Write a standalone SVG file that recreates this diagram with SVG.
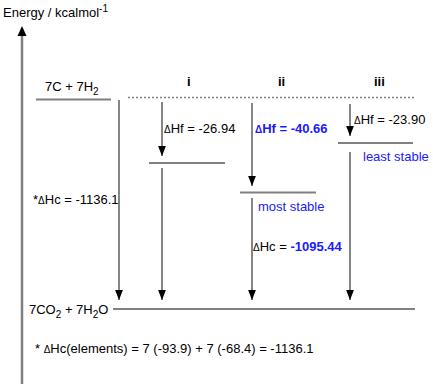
<svg xmlns="http://www.w3.org/2000/svg" width="433" height="386" viewBox="0 0 433 386">
<style>
text{font-family:"Liberation Sans",Arial,sans-serif;font-size:13px;fill:#000}
.d{font-size:10px}
.b{fill:#1a1aff}
.bb{fill:#1a1aff;font-weight:bold}
.h{font-weight:bold}
.lvl{stroke:#808080;stroke-width:2;fill:none}
.arr{stroke:#444;stroke-width:1.3;fill:none;marker-end:url(#ah)}
.sub{font-size:10px}
</style>
<defs>
<marker id="ah" markerUnits="userSpaceOnUse" markerWidth="10" markerHeight="8" refX="9" refY="3.5" orient="auto" viewBox="0 0 9 7">
<path d="M0,0 L9,3.5 L0,7 Z" fill="#000"/>
</marker>
</defs>
<g id="axis">
<line x1="22" y1="384" x2="22" y2="34" stroke="#808080" stroke-width="2.5"/>
<path d="M22,26 L26.5,36 L17.5,36 Z" fill="#000"/>
<text x="3" y="17">Energy / kcalmol<tspan class="sub" dy="-5">-1</tspan></text>
</g>
<g id="connectors">
<line class="arr" x1="119" y1="100" x2="119" y2="300"/>
<line class="arr" x1="162" y1="102" x2="162" y2="156"/>
<line class="arr" x1="162" y1="168" x2="162" y2="300"/>
<line class="arr" x1="252" y1="103" x2="252" y2="186"/>
<line class="arr" x1="252" y1="198" x2="252" y2="300"/>
<line class="arr" x1="350" y1="104" x2="350" y2="136"/>
<line class="arr" x1="350" y1="152" x2="350" y2="300"/>
</g>
<g id="elements">
<line class="lvl" x1="36" y1="99.5" x2="111" y2="99.5"/>
<text x="45" y="91">7C + 7H<tspan class="sub" dy="4">2</tspan></text>
<line x1="128" y1="97.5" x2="414" y2="97.5" stroke="#808080" stroke-width="1.5" stroke-dasharray="2,2"/>
</g>
<g id="col-i">
<text x="187" y="86" class="h">i</text>
<text x="164" y="133"><tspan class="d">Δ</tspan>Hf = -26.94</text>
<line class="lvl" x1="149" y1="163" x2="225" y2="163"/>
</g>
<g id="col-ii">
<text x="278" y="86" class="h">ii</text>
<text x="255" y="133" class="bb"><tspan class="d">Δ</tspan>Hf = -40.66</text>
<line class="lvl" x1="240" y1="192.5" x2="316" y2="192.5"/>
<text x="258" y="211" class="b">most stable</text>
<text x="253" y="251"><tspan class="d">Δ</tspan>Hc = <tspan class="bb">-1095.44</tspan></text>
</g>
<g id="col-iii">
<text x="374" y="86" class="h">iii</text>
<text x="354" y="124"><tspan class="d">Δ</tspan>Hf = -23.90</text>
<line class="lvl" x1="338" y1="143" x2="413" y2="143"/>
<text x="363" y="161" class="b">least stable</text>
</g>
<g id="products">
<line class="lvl" x1="113" y1="309" x2="415" y2="309"/>
<text x="29" y="314">7CO<tspan class="sub" dy="4">2</tspan><tspan dy="-4"> + 7H</tspan><tspan class="sub" dy="4">2</tspan><tspan dy="-4">O</tspan></text>
</g>
<g id="notes">
<text x="33" y="204">*<tspan class="d">Δ</tspan>Hc = -1136.1</text>
<text x="35" y="353">* <tspan class="d">Δ</tspan>Hc(elements) = 7 (-93.9) + 7 (-68.4) = -1136.1</text>
</g>
</svg>
